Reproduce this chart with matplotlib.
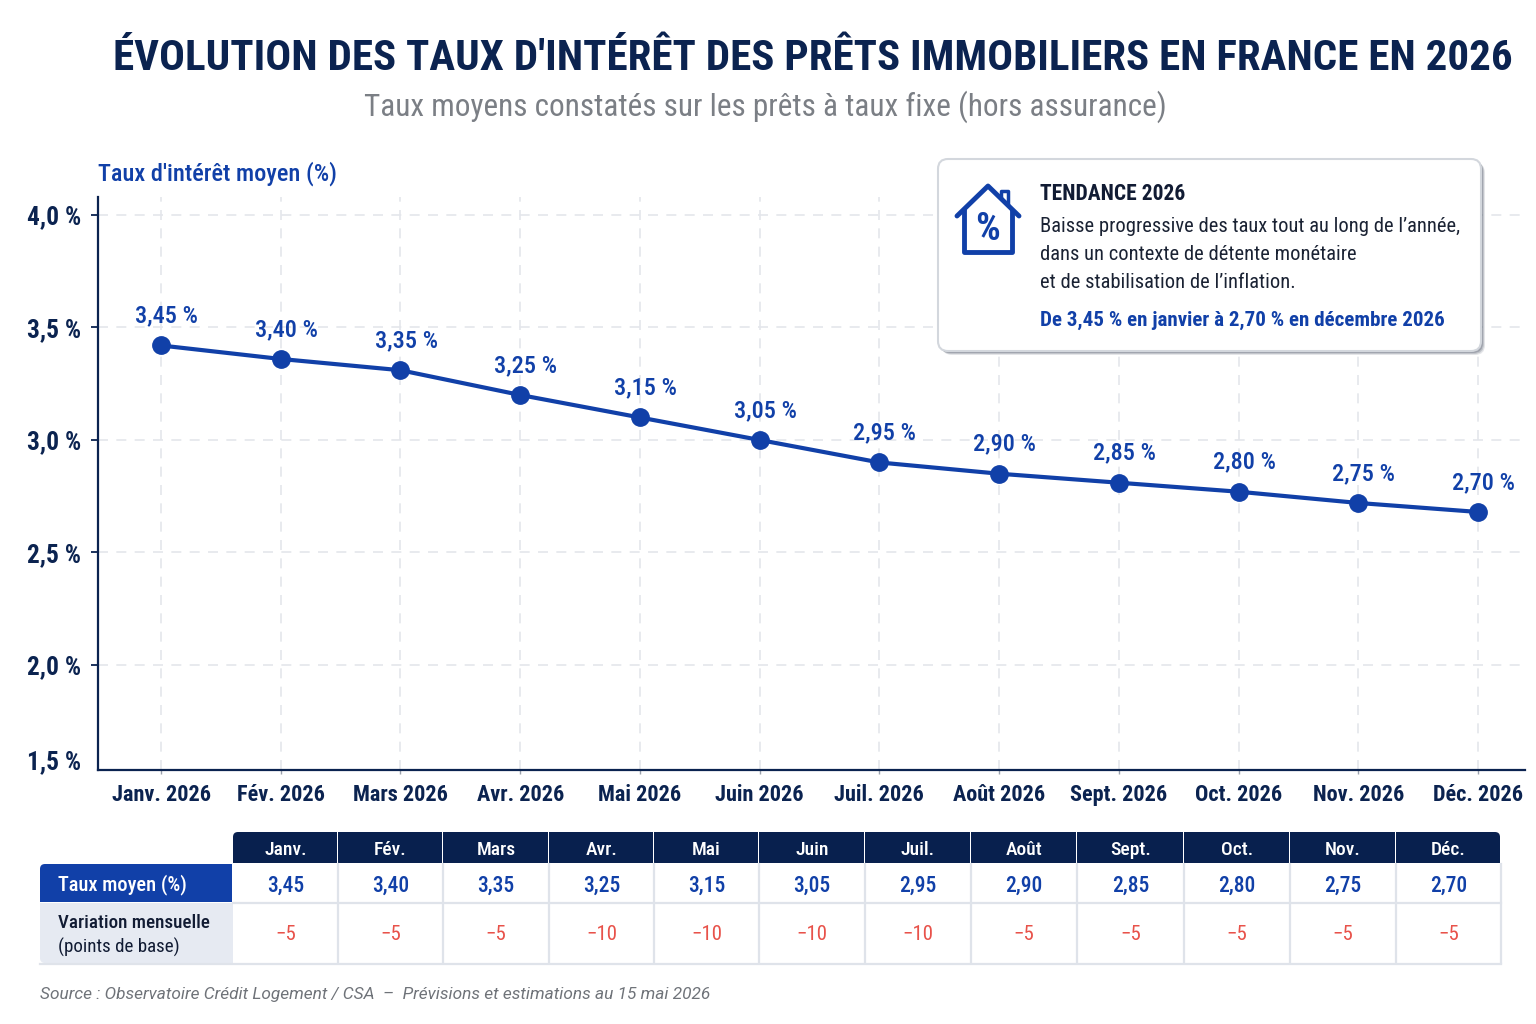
import matplotlib
matplotlib.use("Agg")
import matplotlib.pyplot as plt
from matplotlib import font_manager
from matplotlib.patches import FancyBboxPatch, Rectangle

months = ["Janv. 2026", "Fév. 2026", "Mars 2026", "Avr. 2026", "Mai 2026", "Juin 2026",
          "Juil. 2026", "Août 2026", "Sept. 2026", "Oct. 2026", "Nov. 2026", "Déc. 2026"]
months_short = ["Janv.", "Fév.", "Mars", "Avr.", "Mai", "Juin",
                "Juil.", "Août", "Sept.", "Oct.", "Nov.", "Déc."]
# where the points really sit against the y axis (a bit below their labels)
rate_plotted = [3.42, 3.36, 3.31, 3.20, 3.10, 3.00, 2.90, 2.85, 2.81, 2.77, 2.72, 2.68]
rate_labels = ["3,45", "3,40", "3,35", "3,25", "3,15", "3,05",
               "2,95", "2,90", "2,85", "2,80", "2,75", "2,70"]
variation = ["−5", "−5", "−5", "−10", "−10", "−10", "−10", "−5", "−5", "−5", "−5", "−5"]
y_ticks = [4.0, 3.5, 3.0, 2.5, 2.0]
y_tick_labels = ["4,0 %", "3,5 %", "3,0 %", "2,5 %", "2,0 %"]

NAVY = "#0b2350"
HEADER = "#08204e"
BLUE = "#1140a8"
RED = "#e8524a"
GRID = "#e4e6eb"
W, H = 1536, 1024

installed = {f.name for f in font_manager.fontManager.ttflist}
for name in ["Roboto Condensed", "Liberation Sans Narrow", "Roboto"]:
    if name in installed:
        plt.rcParams["font.family"] = [name, "DejaVu Sans"]
        break

fig = plt.figure(figsize=(W / 100, H / 100), dpi=100, facecolor="white")

# overlay in pixel coordinates for title, card and table
bg = fig.add_axes([0, 0, 1, 1])
bg.set_xlim(0, W)
bg.set_ylim(H, 0)
bg.axis("off")

ax = fig.add_axes([98 / W, 1 - 770 / H, (1525 - 98) / W, (770 - 197) / H])
ax.patch.set_alpha(0)
x = list(range(len(months)))
ax.set_xlim(-63 / 119.7, 11 + 47 / 119.7)
ax.set_ylim(1.533, 4.08)
ax.set_xticks(x)
ax.set_xticklabels(months, fontsize=16, fontweight="bold", color=NAVY, va="baseline")
ax.set_yticks(y_ticks)
ax.set_yticklabels(y_tick_labels, fontsize=18.3, fontweight="bold", color=NAVY)
ax.tick_params(axis="y", length=5, width=1.3, color=NAVY, pad=7)
ax.tick_params(axis="x", length=3, width=1, color="#9aa1ad", pad=19)
ax.grid(True, color=GRID, linestyle=(0, (6, 5)), linewidth=1.2)
ax.set_axisbelow(True)
for s in ["top", "right"]:
    ax.spines[s].set_visible(False)
for s in ["left", "bottom"]:
    ax.spines[s].set_color(NAVY)
    ax.spines[s].set_linewidth(1.6)

ax.plot(x, rate_plotted, color=BLUE, linewidth=3, marker="o", markersize=12.5, zorder=3)
for i, (v, lab) in enumerate(zip(rate_plotted, rate_labels)):
    ax.annotate(lab + " %", (i, v), xytext=(4, 13), textcoords="offset points",
                ha="center", va="bottom", fontsize=17.5, fontweight="medium", color=BLUE)

bg.text(81, 762, "1,5 %", ha="right", va="center", fontsize=18.3, fontweight="bold", color=NAVY)
bg.text(98, 174, "Taux d'intérêt moyen (%)", ha="left", va="center", fontsize=17.5,
        fontweight="medium", color=BLUE)

bg.text(813, 58, "ÉVOLUTION DES TAUX D'INTÉRÊT DES PRÊTS IMMOBILIERS EN FRANCE EN 2026",
        ha="center", va="center", fontsize=31, fontweight="bold", color=NAVY)
bg.text(765, 106.5, "Taux moyens constatés sur les prêts à taux fixe (hors assurance)",
        ha="center", va="center", fontsize=22.5, color="#7b7f85")

# card goes on top of the grid
card = fig.add_axes([0, 0, 1, 1])
card.set_xlim(0, W)
card.set_ylim(H, 0)
card.axis("off")
card.patch.set_alpha(0)
for off, a in [(4, 0.18), (3, 0.28), (2, 0.4)]:
    card.add_patch(FancyBboxPatch((938 + off, 159 + off), 543, 192,
                                  boxstyle="round,pad=0,rounding_size=10",
                                  fc="#6b7280", ec="none", alpha=a))
card.add_patch(FancyBboxPatch((938, 159), 543, 192, boxstyle="round,pad=0,rounding_size=10",
                              fc="white", ec="#d3d7dd", lw=1.5))
# house icon
card.plot([957, 988, 1019], [216, 186, 216], color=BLUE, lw=3.5, solid_capstyle="round",
          solid_joinstyle="round")
card.plot([964, 964, 1012, 1012], [211, 252, 252, 211], color=BLUE, lw=3.5,
          solid_joinstyle="round")
card.plot([1001, 1001, 1008, 1008], [196, 191, 191, 203], color=BLUE, lw=2.5)
card.text(988, 229, "%", ha="center", va="center", fontsize=28, fontweight="bold", color=BLUE)

card.text(1040, 194, "TENDANCE 2026", ha="left", va="center", fontsize=15.5,
          fontweight="bold", color="#111b33")
for yy, line in [(226, "Baisse progressive des taux tout au long de l’année,"),
                 (254, "dans un contexte de détente monétaire"),
                 (283, "et de stabilisation de l’inflation.")]:
    card.text(1040, yy, line, ha="left", va="center", fontsize=14.8, color="#1a2233")
card.text(1040, 320, "De 3,45 % en janvier à 2,70 % en décembre 2026", ha="left", va="center",
          fontsize=15.1, fontweight="bold", color=BLUE)

# table under the chart
col_edges = [233, 338, 443, 549, 654, 759, 865, 971, 1077, 1184, 1290, 1396, 1501]
LINE = "#dfe3ea"
RND = "round,pad=0,rounding_size=5"
# row labels, rounded on the outer corners only
bg.add_patch(FancyBboxPatch((40, 903), 193, 60, boxstyle=RND, fc="#e6eaf2", ec="none"))
bg.add_patch(Rectangle((40, 903), 193, 20, fc="#e6eaf2", ec="none"))
bg.add_patch(Rectangle((60, 903), 173, 60, fc="#e6eaf2", ec="none"))
bg.add_patch(FancyBboxPatch((40, 864), 192, 38, boxstyle=RND, fc=BLUE, ec="none"))
bg.add_patch(Rectangle((40, 884), 192, 18, fc=BLUE, ec="none"))
bg.add_patch(Rectangle((60, 864), 172, 38, fc=BLUE, ec="none"))
bg.text(58, 885, "Taux moyen (%)", ha="left", va="center", fontsize=14.7, fontweight="medium", color="white")
bg.text(58, 923, "Variation mensuelle", ha="left", va="center", fontsize=13.7, fontweight="medium", color="#111b33")
bg.text(58, 947, "(points de base)", ha="left", va="center", fontsize=13.7, color="#111b33")
for i in range(12):
    x0, x1 = col_edges[i], col_edges[i + 1]
    xc = (x0 + x1) / 2
    if i == 0 or i == 11:
        bg.add_patch(FancyBboxPatch((x0, 832), x1 - x0 - 1, 31, boxstyle=RND, fc=HEADER, ec="none"))
        bg.add_patch(Rectangle((x0, 848), x1 - x0 - 1, 15, fc=HEADER, ec="none"))
        bg.add_patch(Rectangle((x0 + 10 if i == 0 else x0, 832), x1 - x0 - 11, 31, fc=HEADER, ec="none"))
    else:
        bg.add_patch(Rectangle((x0, 832), x1 - x0 - 1, 31, fc=HEADER, ec="none"))
    bg.text(xc, 850, months_short[i], ha="center", va="center", fontsize=14, fontweight="medium", color="white")
    bg.text(xc, 886, rate_labels[i], ha="center", va="center", fontsize=15.5, fontweight="medium", color=BLUE)
    bg.text(xc, 935, variation[i], ha="center", va="center", fontsize=15, color=RED)
    bg.plot([x1, x1], [864, 963], color=LINE, lw=1.6)
bg.plot([233, 1501], [903, 903], color=LINE, lw=1.6)
bg.plot([40, 1501], [963.5, 963.5], color=LINE, lw=1.6)

bg.text(40, 995, "Source : Observatoire Crédit Logement / CSA  –  Prévisions et estimations au 15 mai 2026",
        ha="left", va="center", fontsize=12.45, style="italic", color="#6f7379",
        family=["Roboto", "DejaVu Sans"])

fig.savefig("out.png", dpi=100, facecolor="white")
